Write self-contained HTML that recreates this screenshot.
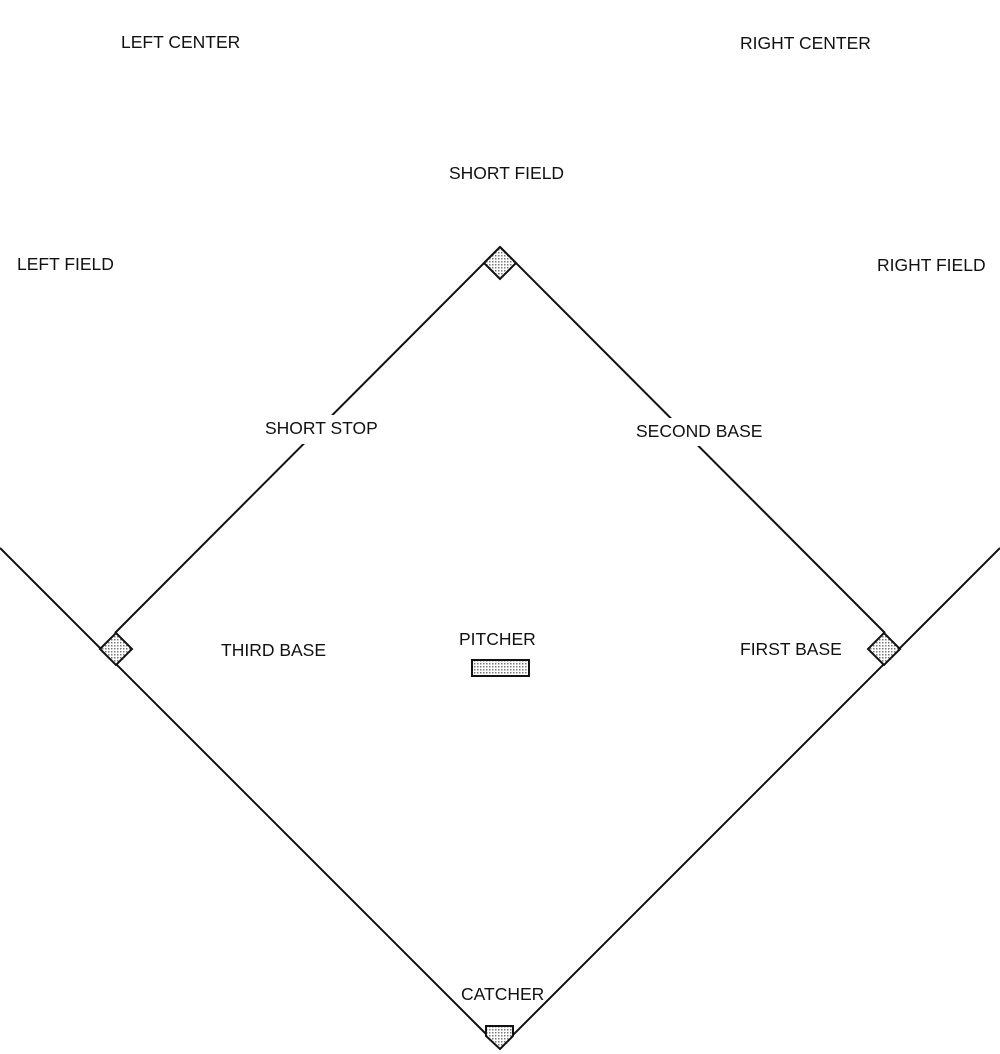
<!DOCTYPE html>
<html><head><meta charset="utf-8"><style>
html,body{margin:0;padding:0;background:#fff;}
svg{display:block}
text{font-family:"Liberation Sans",Arial,sans-serif;font-size:17.5px;fill:#111;}
</style></head><body>
<svg width="1000" height="1054" viewBox="0 0 1000 1054" xmlns="http://www.w3.org/2000/svg">
<defs>
<pattern id="dots" width="3" height="3" patternUnits="userSpaceOnUse">
<rect width="3" height="3" fill="#fff"/><rect width="1.5" height="1.5" fill="#777"/>
</pattern>
</defs>
<g stroke="#111" stroke-width="2" fill="none">
<line x1="0" y1="548" x2="500" y2="1048"/>
<line x1="1000" y1="548" x2="500" y2="1048"/>
<line x1="115" y1="633" x2="500" y2="247"/>
<line x1="885" y1="633" x2="500" y2="247"/>
</g>
<rect x="262" y="415" width="122" height="29" fill="#fff"/>
<rect x="632" y="418" width="136" height="28" fill="#fff"/>
<g stroke="#111" stroke-width="2" fill="url(#dots)">
<polygon points="500,247 516,263 500,279 484,263"/>
<polygon points="116,633 132,649 116,665 100,649"/>
<polygon points="884,633 900,649 884,665 868,649"/>
<polygon points="486,1026 513,1026 513,1036 500,1049 486,1036"/>
<rect x="472" y="660" width="57" height="16"/>
</g>
<text x="121" y="48">LEFT CENTER</text>
<text x="740" y="49">RIGHT CENTER</text>
<text x="449" y="179">SHORT FIELD</text>
<text x="17" y="270">LEFT FIELD</text>
<text x="877" y="271">RIGHT FIELD</text>
<text x="265" y="434">SHORT STOP</text>
<text x="636" y="437">SECOND BASE</text>
<text x="221" y="656">THIRD BASE</text>
<text x="459" y="645">PITCHER</text>
<text x="740" y="655">FIRST BASE</text>
<text x="461" y="1000">CATCHER</text>
</svg>
</body></html>
